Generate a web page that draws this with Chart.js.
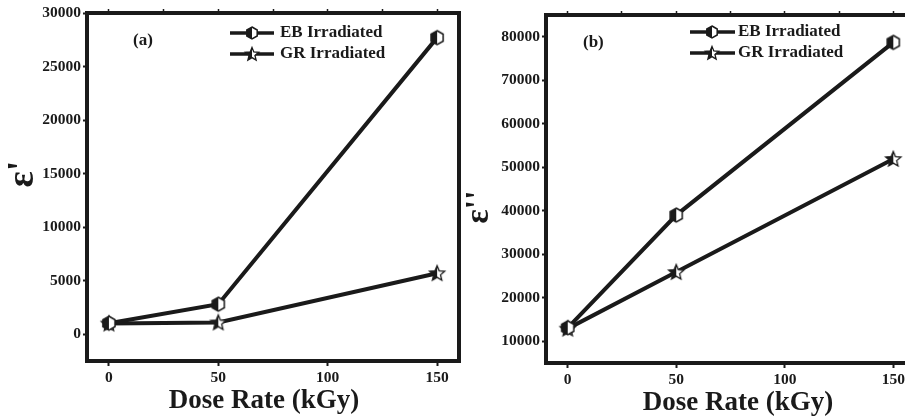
<!DOCTYPE html>
<html><head><meta charset="utf-8">
<script src="https://cdn.jsdelivr.net/npm/chart.js@4.4.0/dist/chart.umd.min.js"></script>
<style>
html,body{margin:0;padding:0;background:#fff;overflow:hidden;width:905px;height:419px;}
#wa{position:absolute;left:0;top:0;width:470px;height:419px;}
#wb{position:absolute;left:460px;top:0;width:470px;height:419px;}
canvas{display:block;}
</style></head><body>
<div id="wa"><canvas id="ca" width="470" height="419"></canvas></div>
<div id="wb"><canvas id="cb" width="470" height="419"></canvas></div>
<script>
// ---- data ----
const doses = [0, 50, 150];
const ebRealA = [1030, 2800, 27700];
const grRealA = [1000, 1100, 5700];
const ebImagB = [13100, 39000, 78700];
const grImagB = [12900, 25900, 51900];
const seriesLabels = ['EB Irradiated', 'GR Irradiated'];
const xTicks = [0, 50, 100, 150];
const xMinorTicks = [0, 25, 50, 75, 100, 125, 150];
const yTicksA = [0, 5000, 10000, 15000, 20000, 25000, 30000];
const yTicksB = [10000, 20000, 30000, 40000, 50000, 60000, 70000, 80000];

const FONT = '"Liberation Serif", "Times New Roman", serif';
const INK = '#1a1a1a';

function hexCanvas(r) {
  const s = Math.ceil(2 * r + 4), c = document.createElement('canvas');
  c.width = c.height = s;
  const g = c.getContext('2d'), cx = s / 2;
  const path = () => { g.beginPath(); for (let k = 0; k < 6; k++) { const a = -Math.PI / 2 + k * Math.PI / 3; g.lineTo(cx + r * Math.cos(a), cx + r * Math.sin(a)); } g.closePath(); };
  path(); g.fillStyle = '#fff'; g.fill();
  g.save(); path(); g.clip(); g.fillStyle = INK; g.fillRect(0, 0, cx, s); g.restore();
  path(); g.lineWidth = 1.5; g.strokeStyle = INK; g.stroke();
  return c;
}
function starCanvas(R, r) {
  const s = Math.ceil(2 * R + 4), c = document.createElement('canvas');
  c.width = c.height = s;
  const g = c.getContext('2d'), cx = s / 2, cy = s / 2 + 0.5;
  const path = () => { g.beginPath(); for (let k = 0; k < 10; k++) { const a = -Math.PI / 2 + k * Math.PI / 5, rr = k % 2 ? r : R; g.lineTo(cx + rr * Math.cos(a), cy + rr * Math.sin(a)); } g.closePath(); };
  path(); g.fillStyle = '#fff'; g.fill();
  g.save(); path(); g.clip(); g.fillStyle = INK; g.fillRect(0, 0, cx, s); g.restore();
  path(); g.lineWidth = 1.3; g.strokeStyle = INK; g.stroke();
  return c;
}
const hexPt = hexCanvas(7), starPt = starCanvas(8, 3.6);
const hexLg = hexCanvas(6), starLg = starCanvas(7, 3.1);

function build(id, cfg) {
  const W = 470, H = 419, A = cfg.area;
  const tickFont = { family: FONT, size: 15.5, weight: 'bold' };
  const plain = v => String(v);
  const setTicks = arr => s => { s.ticks = arr.map(v => ({ value: v })); };
  const deco = {
    id: 'deco',
    beforeDatasetsDraw(chart) {
      const ctx = chart.ctx, ca = chart.chartArea;
      ctx.save(); ctx.lineWidth = 4; ctx.strokeStyle = INK; ctx.lineJoin = 'miter';
      ctx.strokeRect(ca.left, ca.top, ca.right - ca.left, ca.bottom - ca.top);
      ctx.restore();
    },
    afterDraw(chart) {
      const ctx = chart.ctx;
      ctx.save();
      ctx.fillStyle = INK; ctx.strokeStyle = INK;
      const L = cfg.legend, imgs = [hexLg, starLg];
      chart.data.datasets.forEach((ds, i) => {
        const y = L.rows[i];
        ctx.lineWidth = 3.5; ctx.beginPath(); ctx.moveTo(L.x0, y); ctx.lineTo(L.x1, y); ctx.stroke();
        const im = imgs[i]; ctx.drawImage(im, L.mx - im.width / 2, y - im.height / 2);
        ctx.font = 'bold 17px ' + FONT; ctx.textBaseline = 'middle'; ctx.textAlign = 'left';
        ctx.fillText(ds.label, L.tx, y);
      });
      ctx.font = 'bold 17px ' + FONT; ctx.textBaseline = 'middle'; ctx.textAlign = 'left';
      ctx.fillText(cfg.panel, cfg.panelPos[0], cfg.panelPos[1]);
      ctx.font = 'bold 27px ' + FONT; ctx.textBaseline = 'alphabetic'; ctx.textAlign = 'center';
      ctx.fillText(cfg.xTitle, cfg.xTitlePos[0], cfg.xTitlePos[1]);
      ctx.translate(cfg.yTitlePos[0], cfg.yTitlePos[1]); ctx.rotate(-Math.PI / 2);
      ctx.font = 'bold ' + cfg.yTitleSize + 'px ' + FONT; ctx.textAlign = 'center'; ctx.textBaseline = 'alphabetic';
      ctx.fillText(cfg.yTitle, 0, 0);
      ctx.restore();
    }
  };
  const mk = (label, vals, img) => ({
    label, data: doses.map((d, i) => ({ x: d, y: vals[i] })),
    borderColor: INK, backgroundColor: INK, borderWidth: 4, tension: 0, fill: false,
    pointStyle: img, pointRadius: 7, pointHoverRadius: 7
  });
  return new Chart(document.getElementById(id), {
    type: 'line',
    data: { datasets: [mk(seriesLabels[0], cfg.eb, hexPt), mk(seriesLabels[1], cfg.gr, starPt)] },
    options: {
      responsive: false, animation: false, devicePixelRatio: 1,
      layout: { padding: 0 },
      plugins: { legend: { display: false }, tooltip: { enabled: false } },
      scales: {
        x: {
          type: 'linear', position: 'bottom', min: -10, max: 160,
          afterBuildTicks: setTicks(xTicks),
          afterFit: s => { s.height = H - A.bottom; },
          ticks: { font: tickFont, color: INK, padding: 3, maxRotation: 0, callback: plain },
          grid: { drawOnChartArea: false, drawTicks: true, tickLength: 5, tickColor: INK, tickWidth: 2 },
          border: { display: true, width: 4, color: INK }
        },
        x2: {
          type: 'linear', position: 'top', min: -10, max: 160,
          afterBuildTicks: setTicks(xMinorTicks),
          afterFit: s => { s.height = A.top; },
          ticks: { display: false },
          grid: { drawOnChartArea: false, drawTicks: true, tickLength: 4, tickColor: INK, tickWidth: 1.5 },
          border: { display: true, width: 4, color: INK }
        },
        y: {
          type: 'linear', position: 'left', min: cfg.yMin, max: cfg.yMax,
          afterBuildTicks: setTicks(cfg.yTicks),
          afterFit: s => { s.width = A.left; },
          ticks: { font: tickFont, color: INK, padding: 2, callback: plain },
          grid: { drawOnChartArea: false, drawTicks: true, tickLength: 4, tickColor: INK, tickWidth: 2 },
          border: { display: true, width: 4, color: INK }
        },
        y2: {
          type: 'linear', position: 'right', min: cfg.yMin, max: cfg.yMax,
          afterFit: s => { s.width = W - A.right; },
          ticks: { display: false },
          grid: { display: false },
          border: { display: true, width: 4, color: INK }
        }
      }
    },
    plugins: [deco]
  });
}

build('ca', {
  area: { left: 87, right: 459, top: 13, bottom: 361 },
  yMin: -2500, yMax: 30000, yTicks: yTicksA,
  eb: ebRealA, gr: grRealA,
  legend: { x0: 230, x1: 274, mx: 252, tx: 280, rows: [33, 54] },
  panel: '(a)', panelPos: [133, 41],
  xTitle: 'Dose Rate (kGy)', xTitlePos: [264, 408],
  yTitle: "\u03b5'", yTitleSize: 38, yTitlePos: [33, 174]
});
build('cb', {
  area: { left: 86, right: 455, top: 15, bottom: 363 },
  yMin: 5000, yMax: 85000, yTicks: yTicksB,
  eb: ebImagB, gr: grImagB,
  legend: { x0: 230, x1: 275, mx: 252, tx: 278, rows: [32, 53] },
  panel: '(b)', panelPos: [123, 43],
  xTitle: 'Dose Rate (kGy)', xTitlePos: [278, 410],
  yTitle: "\u03b5''", yTitleSize: 34, yTitlePos: [28, 207]
});
</script>
</body></html>
